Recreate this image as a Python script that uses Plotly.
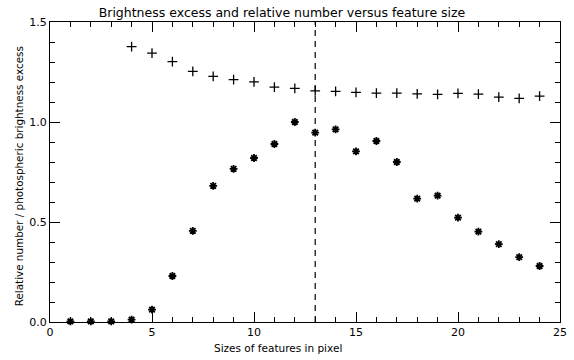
import plotly.graph_objects as go

sizes = list(range(1, 25))
rel_number = [0.003, 0.003, 0.003, 0.012, 0.062, 0.23, 0.456, 0.681, 0.766, 0.82, 0.89, 1.0,
              0.947, 0.963, 0.853, 0.905, 0.80, 0.617, 0.632, 0.522, 0.452, 0.389, 0.324, 0.28]
bright_x = list(range(4, 25))
bright_excess = [1.377, 1.344, 1.302, 1.253, 1.228, 1.212, 1.201, 1.174, 1.168, 1.156, 1.153,
                 1.148, 1.144, 1.144, 1.141, 1.138, 1.143, 1.139, 1.124, 1.118, 1.129]
vline_x = 13

title = "Brightness excess and relative number versus feature size"
xlabel = "Sizes of features in pixel"
ylabel = "Relative number / photospheric brightness excess"

font = "DejaVu Sans"

fig = go.Figure()
fig.add_trace(go.Scatter(x=bright_x, y=bright_excess, mode="markers",
                         marker=dict(symbol="cross-thin", size=7, color="black",
                                     line=dict(width=1.3, color="black")),
                         showlegend=False, cliponaxis=False))
fig.add_trace(go.Scatter(x=sizes, y=rel_number, mode="markers",
                         marker=dict(symbol="asterisk-open", size=6.5, color="black",
                                     line=dict(width=1.8, color="black")),
                         showlegend=False, cliponaxis=False))
fig.add_shape(type="line", x0=vline_x, x1=vline_x, y0=0, y1=1.5, xref="x", yref="y",
              line=dict(color="black", width=1.2, dash="6px,5px"))

axis_common = dict(showgrid=False, zeroline=False, showline=True, linecolor="black",
                   linewidth=1.3, mirror="ticks", ticks="inside", tickcolor="black",
                   tickwidth=1, ticklen=10,
                   tickfont=dict(family=font, size=11, color="black"))

fig.update_xaxes(range=[0, 25], tickvals=[0, 5, 10, 15, 20, 25],
                 minor=dict(dtick=1, ticks="inside", ticklen=5, tickcolor="black", tickwidth=1),
                 **axis_common)
fig.update_yaxes(range=[0, 1.5], tickvals=[0, 0.5, 1.0, 1.5], ticktext=["0.0", "0.5", "1.0", "1.5"],
                 minor=dict(dtick=0.1, ticks="inside", ticklen=5, tickcolor="black", tickwidth=1),
                 **axis_common)

fig.add_annotation(text=xlabel, xref="paper", yref="paper", x=(281 - 50) / 517, y=-0.088,
                   xanchor="center", yanchor="middle", showarrow=False,
                   font=dict(family=font, size=10.5, color="black"))
fig.add_annotation(text=ylabel, xref="paper", yref="paper", x=(18 - 50) / 517, y=0.487,
                   xanchor="center", yanchor="middle", showarrow=False, textangle=-90,
                   font=dict(family=font, size=10.4, color="black"))

fig.update_layout(
    width=574, height=360,
    margin=dict(l=50, r=7, t=22, b=38),
    plot_bgcolor="white", paper_bgcolor="white",
    title=dict(text=title, x=282 / 574, xanchor="center", y=0.965, yanchor="middle",
               font=dict(family=font, size=12.5, color="black")),
)

fig.write_html("out.html")
